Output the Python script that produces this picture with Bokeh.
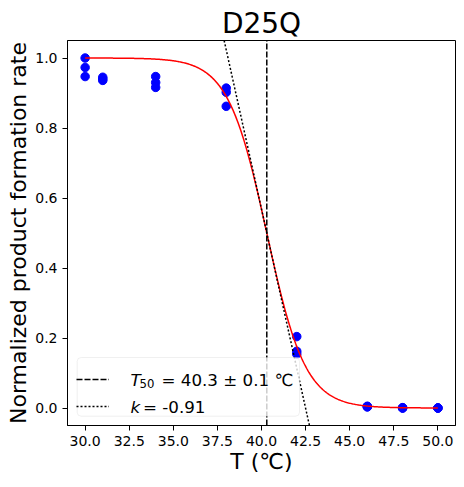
import numpy as np
from bokeh.plotting import figure
from bokeh.models import (Range1d, FixedTicker, PrintfTickFormatter, Label, Legend,
                          LegendItem, BoxAnnotation)
from bokeh.core.properties import value
from bokeh.embed import file_html
from bokeh.resources import INLINE

# ---------------- data ----------------
title_text = "D25Q"
temps = [30, 30, 30, 31, 31, 31, 34, 34, 34, 38, 38, 38,
         42, 42, 42, 46, 46, 46, 48, 48, 48, 50, 50, 50]
rates = [1.000, 0.973, 0.947, 0.945, 0.940, 0.936, 0.947, 0.930, 0.916,
         0.914, 0.902, 0.862, 0.204, 0.162, 0.154, 0.005, 0.004, 0.003,
         0.001, 0.000, 0.000, 0.000, 0.000, 0.000]
T50 = 40.3
T50_err = 0.1
k = -0.91
x_ticks = [30.0, 32.5, 35.0, 37.5, 40.0, 42.5, 45.0, 47.5, 50.0]
y_ticks = [0.0, 0.2, 0.4, 0.6, 0.8, 1.0]
x_lo, x_hi = 29.0, 51.0
y_lo, y_hi = -0.05, 1.05

# fitted logistic model and its tangent at T50 (from the legend parameters)
fit_T = np.linspace(30, 50, 400)
fit_y = 1.0 / (1.0 + np.exp(-k * (fit_T - T50)))
tan_T = np.array([37.0, 43.5])
tan_y = 0.5 + (k / 4.0) * (tan_T - T50)

# ---------------- layout ----------------
FW, FH = 388, 385
FL_IMG, FT_IMG = 67, 40          # frame left/top in page pixels
sx = FW / (x_hi - x_lo)
sy = FH / (y_hi - y_lo)

def X(px):
    return x_lo + (px - FL_IMG) / sx

def Y(py):
    return y_lo + (FT_IMG + FH - py) / sy

FONT = "DejaVu Sans"

p = figure(frame_width=FW, frame_height=FH, output_backend="svg",
           toolbar_location=None, x_range=Range1d(x_lo, x_hi),
           y_range=Range1d(y_lo, y_hi),
           min_border_left=67, min_border_right=8, min_border_top=40,
           min_border_bottom=55, title=title_text)

p.title.align = "center"
p.title.text_font = FONT
p.title.text_font_size = "28px"
p.title.text_font_style = "normal"
p.title.text_color = "black"
p.title.standoff = 2

p.grid.visible = False
p.outline_line_color = "black"
p.outline_line_width = 1
p.background_fill_color = "white"
p.border_fill_color = "white"

for ax in (p.xaxis, p.yaxis):
    ax.major_tick_in = 0
    ax.major_tick_out = 5
    ax.minor_tick_line_color = None
    ax.axis_line_color = "black"
    ax.major_tick_line_color = "black"
    ax.major_label_text_font = FONT
    ax.major_label_text_font_size = "14px"
    ax.major_label_text_color = "black"
    ax.major_label_standoff = 5
    ax.axis_label_text_font = FONT
    ax.axis_label_text_font_size = "22px"
    ax.axis_label_text_font_style = "normal"
    ax.axis_label_text_color = "black"

p.xaxis.ticker = FixedTicker(ticks=x_ticks)
p.yaxis.ticker = FixedTicker(ticks=y_ticks)
p.xaxis.formatter = PrintfTickFormatter(format="%.1f")
p.yaxis.formatter = PrintfTickFormatter(format="%.1f")

p.yaxis.axis_label = "Normalized product formation rate"
p.yaxis.axis_label_standoff = 1
p.xaxis.axis_label = "T (\u2103)"
p.xaxis.axis_label_standoff = 0

# ---------------- glyphs ----------------
p.scatter(temps, rates, size=8.5, color="blue", line_color="blue")
p.line(fit_T, fit_y, line_color="red", line_width=1.5)
vline = p.line([T50, T50], [y_lo, y_hi], line_color="black", line_width=1.5,
               line_dash="6 2")
tline = p.line(tan_T, tan_y, line_color="black", line_width=1.5,
               line_dash="2 2")

# legend background: translucent white fill drawn over the lines
LB = dict(left=X(76.7), right=X(299.0), top=Y(357.0), bottom=Y(415.7))
p.quad(fill_color="white", fill_alpha=0.8, line_color=None, **{k_: [v] for k_, v in LB.items()})
p.add_layout(BoxAnnotation(fill_alpha=0.0, line_color="#cccccc", line_width=1,
                           border_radius=4, **LB))

def lab(px, py, text, size, style="normal"):
    p.add_layout(Label(x=X(px), y=Y(py), text=text, text_font=FONT,
                       text_font_size=size, text_font_style=style,
                       text_color="black", text_align="left",
                       text_baseline="alphabetic"))

# legend texts
lab(130, 379.3, "T", "16.7px", "italic")
lab(139, 382.5, "50", "11.7px")
lab(161, 379.3, "= %.1f \u00b1 %.1f \u2103" % (T50, T50_err), "16.7px")
lab(130, 406.3, "k", "16.7px", "italic")
lab(142.5, 406.3, "= %.2f" % k, "16.7px")

# legend swatches (no own background / border)
legend = Legend(items=[LegendItem(label=value(" "), renderers=[vline]),
                       LegendItem(label=value(" "), renderers=[tline])],
                location="bottom_left", margin=9, padding=6, spacing=7,
                glyph_width=33, glyph_height=20, label_height=20,
                label_width=162, label_standoff=15,
                label_text_font_size="16.7px",
                border_line_color=None, background_fill_alpha=0.0)
p.add_layout(legend, "center")

open("out.html", "w").write(file_html(p, INLINE))
